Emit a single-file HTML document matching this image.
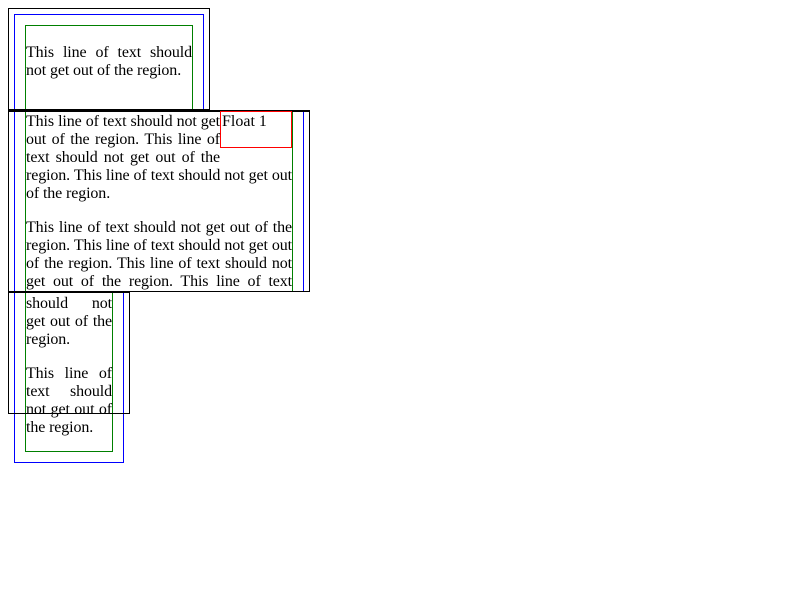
<!DOCTYPE html>
<html><head><style>
body{margin:0;width:800px;height:600px;background:#fff;position:relative;font-family:"Liberation Serif",serif;font-size:16px;color:#000}
.a{position:absolute;box-sizing:border-box}
.l{position:absolute;height:18px;line-height:18px;text-align:justify;text-align-last:justify;white-space:nowrap;overflow:visible;letter-spacing:-0.12px}
.l.e{text-align-last:left}
</style></head><body>
<!-- blue pieces -->
<div class="a" style="left:14px;top:14px;width:190px;height:97px;border:1px solid blue;border-bottom:none"></div>
<div class="a" style="left:14px;top:110px;width:290px;height:182px;border-left:1px solid blue;border-right:1px solid blue"></div>
<div class="a" style="left:14px;top:291px;width:110px;height:172px;border:1px solid blue;border-top:none"></div>
<!-- green pieces -->
<div class="a" style="left:25px;top:25px;width:168px;height:86px;border:1px solid green;border-bottom:none"></div>
<div class="a" style="left:25px;top:110px;width:268px;height:182px;border-left:1px solid green;border-right:1px solid green"></div>
<div class="a" style="left:25px;top:291px;width:88px;height:161px;border:1px solid green;border-top:none"></div>
<!-- black regions -->
<div class="a" style="left:8px;top:8px;width:202px;height:102px;border:1px solid #000"></div>
<div class="a" style="left:8px;top:110px;width:302px;height:182px;border:1px solid #000;border-top-width:2px"></div>
<div class="a" style="left:8px;top:291px;width:122px;height:123px;border:1px solid #000;border-top-width:2px"></div>
<!-- float -->
<div class="a" style="left:220px;top:111px;width:72px;height:37px;border:1px solid red;line-height:20px;padding-left:1px">Float 1</div>
<!-- region 1 text -->
<div class="l" style="left:26px;top:44px;width:166px">This line of text should</div>
<div class="l e" style="left:26px;top:62px;width:166px">not get out of the region.</div>
<!-- region 2 text -->
<div class="l" style="left:26px;top:113px;width:194px">This line of text should not get</div>
<div class="l" style="left:26px;top:131px;width:194px">out of the region. This line of</div>
<div class="l" style="left:26px;top:149px;width:194px">text should not get out of the</div>
<div class="l" style="left:26px;top:167px;width:266px">region. This line of text should not get out</div>
<div class="l e" style="left:26px;top:185px;width:266px">of the region.</div>
<div class="l" style="left:26px;top:219px;width:266px">This line of text should not get out of the</div>
<div class="l" style="left:26px;top:237px;width:266px">region. This line of text should not get out</div>
<div class="l" style="left:26px;top:255px;width:266px">of the region. This line of text should not</div>
<div class="l" style="left:26px;top:273px;width:266px">get out of the region. This line of text</div>
<!-- region 3 text -->
<div class="l" style="left:26px;top:295px;width:86px">should not</div>
<div class="l" style="left:26px;top:313px;width:86px">get out of the</div>
<div class="l e" style="left:26px;top:331px;width:86px">region.</div>
<div class="l" style="left:26px;top:365px;width:86px">This line of</div>
<div class="l" style="left:26px;top:383px;width:86px">text should</div>
<div class="l" style="left:26px;top:401px;width:86px">not get out of</div>
<div class="l e" style="left:26px;top:419px;width:86px">the region.</div>
</body></html>
